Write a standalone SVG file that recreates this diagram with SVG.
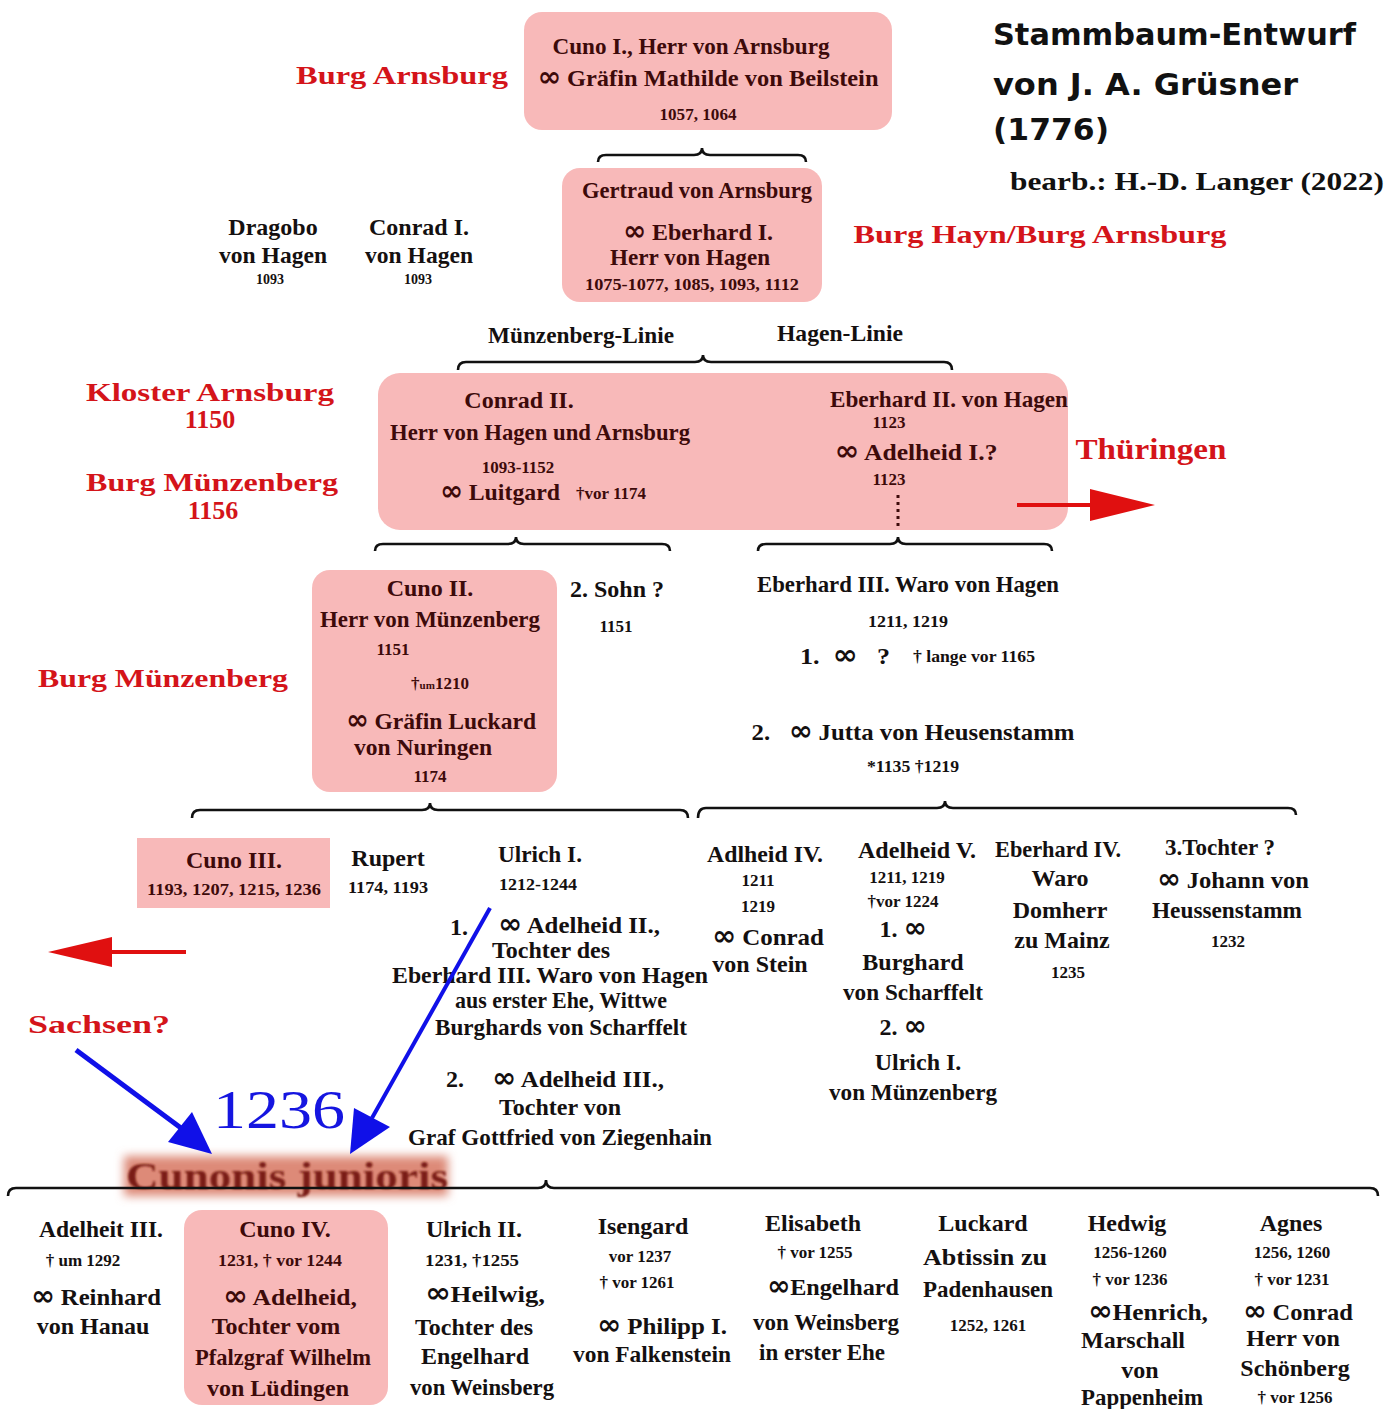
<svg xmlns="http://www.w3.org/2000/svg" width="1386" height="1409" viewBox="0 0 1386 1409">
<defs>
<style>
text{font-family:"Liberation Serif","Times New Roman",serif;text-anchor:middle}
.t{fill:#141010;font-size:24px;font-weight:bold}
.b{fill:#3d0a0a;font-size:24px;font-weight:bold}
.s{fill:#141010;font-size:17px;font-weight:bold}
.sb{fill:#3d0a0a;font-size:17px;font-weight:bold}
.r{fill:#d4141a;font-size:26px;font-weight:bold}
.i{font-family:"DejaVu Sans",sans-serif;font-size:1.15em;font-weight:bold}
.box{fill:#f8b9b9}
.brace{fill:none;stroke:#111;stroke-width:2.6}
.title{font-family:"DejaVu Sans",sans-serif;font-weight:bold;font-size:31px;fill:#111;text-anchor:start}
</style>
<filter id="blur" x="-10%" y="-40%" width="120%" height="180%"><feGaussianBlur stdDeviation="5"/></filter>
<filter id="soft"><feGaussianBlur stdDeviation="0.9"/></filter>
</defs>
<rect width="1386" height="1409" fill="#fff"/>

<!-- title -->
<g id="title">
<text class="title" x="993" y="45" textLength="363" lengthAdjust="spacingAndGlyphs">Stammbaum-Entwurf</text>
<text class="title" x="993" y="95" textLength="305" lengthAdjust="spacingAndGlyphs">von J. A. Grüsner</text>
<text class="title" x="993" y="140" textLength="116" lengthAdjust="spacingAndGlyphs">(1776)</text>
<text x="1010" y="190" style="text-anchor:start;font-size:26px;font-weight:bold;fill:#111" textLength="374" lengthAdjust="spacingAndGlyphs">bearb.: H.-D. Langer (2022)</text>
</g>

<!-- red place labels -->
<g id="labels">
<text class="r" x="402" y="84" textLength="212" lengthAdjust="spacingAndGlyphs">Burg Arnsburg</text>
<text class="r" x="1040" y="243" textLength="373" lengthAdjust="spacingAndGlyphs">Burg Hayn/Burg Arnsburg</text>
<text class="r" x="210" y="401" textLength="248" lengthAdjust="spacingAndGlyphs">Kloster Arnsburg</text>
<text class="r" x="210" y="428">1150</text>
<text class="r" x="212" y="491" textLength="252" lengthAdjust="spacingAndGlyphs">Burg Münzenberg</text>
<text class="r" x="213" y="519">1156</text>
<text class="r" x="1151" y="459" style="font-size:30px" textLength="151" lengthAdjust="spacingAndGlyphs">Thüringen</text>
<text class="r" x="163" y="687" textLength="250" lengthAdjust="spacingAndGlyphs">Burg Münzenberg</text>
<text class="r" x="99" y="1033" textLength="142" lengthAdjust="spacingAndGlyphs">Sachsen?</text>
<text x="279" y="1128" style="font-size:54px;fill:#1515e0" textLength="132" lengthAdjust="spacingAndGlyphs">1236</text>
<text class="t" x="581" y="343" textLength="186" lengthAdjust="spacingAndGlyphs">Münzenberg-Linie</text>
<text class="t" x="840" y="341" textLength="126" lengthAdjust="spacingAndGlyphs">Hagen-Linie</text>
</g>

<g id="cuno1">
<rect class="box" x="524" y="12" width="368" height="118" rx="18"/>
<text class="b" x="691" y="54" textLength="277" lengthAdjust="spacingAndGlyphs">Cuno I., Herr von Arnsburg</text>
<text class="b" x="708" y="86" textLength="341" lengthAdjust="spacingAndGlyphs"><tspan class="i">∞</tspan> Gräfin Mathilde von Beilstein</text>
<text class="sb" x="698" y="120" textLength="77" lengthAdjust="spacingAndGlyphs">1057, 1064</text>
</g>

<g id="gertraud">
<rect class="box" x="562" y="168" width="260" height="134" rx="18"/>
<text class="b" x="697" y="198" textLength="230" lengthAdjust="spacingAndGlyphs">Gertraud von Arnsburg</text>
<text class="b" x="698" y="240" textLength="150" lengthAdjust="spacingAndGlyphs"><tspan class="i">∞</tspan> Eberhard I.</text>
<text class="b" x="690" y="265" textLength="160" lengthAdjust="spacingAndGlyphs">Herr von Hagen</text>
<text class="sb" x="692" y="290" textLength="214" lengthAdjust="spacingAndGlyphs">1075-1077, 1085, 1093, 1112</text>
</g>

<g id="dragobo">
<text class="t" x="273" y="235">Dragobo</text>
<text class="t" x="273" y="263" textLength="108" lengthAdjust="spacingAndGlyphs">von Hagen</text>
<text class="s" x="270" y="284" style="font-size:14px">1093</text>
</g>
<g id="conrad1">
<text class="t" x="419" y="235">Conrad I.</text>
<text class="t" x="419" y="263" textLength="108" lengthAdjust="spacingAndGlyphs">von Hagen</text>
<text class="s" x="418" y="284" style="font-size:14px">1093</text>
</g>

<g id="conrad2-eberhard2">
<rect class="box" x="378" y="373" width="690" height="157" rx="22"/>
<text class="b" x="519" y="408">Conrad II.</text>
<text class="b" x="540" y="440" textLength="300" lengthAdjust="spacingAndGlyphs">Herr von Hagen und Arnsburg</text>
<text class="sb" x="518" y="473">1093-1152</text>
<text class="b" x="500" y="500" textLength="120" lengthAdjust="spacingAndGlyphs"><tspan class="i">∞</tspan> Luitgard</text>
<text class="sb" x="611" y="499" textLength="70" lengthAdjust="spacingAndGlyphs">†vor 1174</text>
<text class="b" x="949" y="407" textLength="238" lengthAdjust="spacingAndGlyphs">Eberhard II. von Hagen</text>
<text class="sb" x="889" y="428">1123</text>
<text class="b" x="916" y="460" textLength="163" lengthAdjust="spacingAndGlyphs"><tspan class="i">∞</tspan> Adelheid I.?</text>
<text class="sb" x="889" y="485">1123</text>
</g>

<g id="cuno2">
<rect class="box" x="312" y="570" width="245" height="222" rx="18"/>
<text class="b" x="430" y="596">Cuno II.</text>
<text class="b" x="430" y="627" textLength="220" lengthAdjust="spacingAndGlyphs">Herr von Münzenberg</text>
<text class="sb" x="393" y="655">1151</text>
<text class="sb" x="440" y="689">†<tspan style="font-size:11px">um</tspan>1210</text>
<text class="b" x="441" y="729" textLength="190" lengthAdjust="spacingAndGlyphs"><tspan class="i">∞</tspan> Gräfin Luckard</text>
<text class="b" x="423" y="755" textLength="138" lengthAdjust="spacingAndGlyphs">von Nuringen</text>
<text class="sb" x="430" y="782">1174</text>
</g>

<g id="sohn2">
<text class="t" x="617" y="597" textLength="94" lengthAdjust="spacingAndGlyphs">2. Sohn ?</text>
<text class="s" x="616" y="632">1151</text>
</g>

<g id="eberhard3">
<text class="t" x="908" y="592" textLength="302" lengthAdjust="spacingAndGlyphs">Eberhard III. Waro von Hagen</text>
<text class="s" x="908" y="627" textLength="80" lengthAdjust="spacingAndGlyphs">1211, 1219</text>
<text class="t" x="845" y="664" textLength="90" lengthAdjust="spacingAndGlyphs" xml:space="preserve">1.  <tspan class="i">∞</tspan>   ?</text>
<text class="s" x="974" y="662" textLength="122" lengthAdjust="spacingAndGlyphs">† lange vor 1165</text>
<text class="t" x="913" y="740" textLength="323" lengthAdjust="spacingAndGlyphs" xml:space="preserve">2.   <tspan class="i">∞</tspan> Jutta von Heusenstamm</text>
<text class="s" x="913" y="772" textLength="92" lengthAdjust="spacingAndGlyphs">*1135 †1219</text>
</g>

<g id="cuno3">
<rect class="box" x="137" y="838" width="193" height="70"/>
<text class="b" x="234" y="868">Cuno III.</text>
<text class="sb" x="234" y="895" textLength="174" lengthAdjust="spacingAndGlyphs">1193, 1207, 1215, 1236</text>
</g>
<g id="rupert">
<text class="t" x="388" y="866">Rupert</text>
<text class="s" x="388" y="893" textLength="80" lengthAdjust="spacingAndGlyphs">1174, 1193</text>
</g>
<g id="ulrich1">
<text class="t" x="540" y="862" textLength="84" lengthAdjust="spacingAndGlyphs">Ulrich I.</text>
<text class="s" x="538" y="890" textLength="78" lengthAdjust="spacingAndGlyphs">1212-1244</text>
<text class="t" x="459" y="935">1.</text>
<text class="t" x="579" y="933" textLength="162" lengthAdjust="spacingAndGlyphs"><tspan class="i">∞</tspan> Adelheid II.,</text>
<text class="t" x="551" y="958">Tochter des</text>
<text class="t" x="550" y="983" textLength="316" lengthAdjust="spacingAndGlyphs">Eberhard III. Waro von Hagen</text>
<text class="t" x="561" y="1008" textLength="212" lengthAdjust="spacingAndGlyphs">aus erster Ehe, Wittwe</text>
<text class="t" x="561" y="1035" textLength="252" lengthAdjust="spacingAndGlyphs">Burghards von Scharffelt</text>
<text class="t" x="455" y="1087">2.</text>
<text class="t" x="578" y="1087" textLength="172" lengthAdjust="spacingAndGlyphs"><tspan class="i">∞</tspan> Adelheid III.,</text>
<text class="t" x="560" y="1115">Tochter von</text>
<text class="t" x="560" y="1145" textLength="304" lengthAdjust="spacingAndGlyphs">Graf Gottfried von Ziegenhain</text>
</g>

<g id="adlheid4">
<text class="t" x="765" y="862" textLength="116" lengthAdjust="spacingAndGlyphs">Adlheid IV.</text>
<text class="s" x="758" y="886">1211</text>
<text class="s" x="758" y="912">1219</text>
<text class="t" x="768" y="945" textLength="112" lengthAdjust="spacingAndGlyphs"><tspan class="i">∞</tspan> Conrad</text>
<text class="t" x="760" y="972">von Stein</text>
</g>
<g id="adelheid5">
<text class="t" x="917" y="858" textLength="118" lengthAdjust="spacingAndGlyphs">Adelheid V.</text>
<text class="s" x="907" y="883">1211, 1219</text>
<text class="s" x="903" y="907">†vor 1224</text>
<text class="t" x="903" y="937">1. <tspan class="i">∞</tspan></text>
<text class="t" x="913" y="970">Burghard</text>
<text class="t" x="913" y="1000" textLength="140" lengthAdjust="spacingAndGlyphs">von Scharffelt</text>
<text class="t" x="903" y="1035">2. <tspan class="i">∞</tspan></text>
<text class="t" x="918" y="1070">Ulrich I.</text>
<text class="t" x="913" y="1100" textLength="168" lengthAdjust="spacingAndGlyphs">von Münzenberg</text>
</g>
<g id="eberhard4">
<text class="t" x="1058" y="857" textLength="126" lengthAdjust="spacingAndGlyphs">Eberhard IV.</text>
<text class="t" x="1060" y="886">Waro</text>
<text class="t" x="1060" y="918">Domherr</text>
<text class="t" x="1062" y="948">zu Mainz</text>
<text class="s" x="1068" y="978">1235</text>
</g>
<g id="tochter3">
<text class="t" x="1220" y="855" textLength="110" lengthAdjust="spacingAndGlyphs">3.Tochter ?</text>
<text class="t" x="1233" y="888" textLength="152" lengthAdjust="spacingAndGlyphs"><tspan class="i">∞</tspan> Johann von</text>
<text class="t" x="1227" y="918" textLength="150" lengthAdjust="spacingAndGlyphs">Heussenstamm</text>
<text class="s" x="1228" y="947">1232</text>
</g>

<g id="cunonis">
<rect x="124" y="1156" width="324" height="40" fill="#dd8a78" filter="url(#blur)"/>
<text x="287" y="1189" filter="url(#soft)" style="font-size:38px;font-weight:bold;fill:#7a1e12" textLength="322" lengthAdjust="spacingAndGlyphs">Cunonis junioris</text>
</g>

<g id="adelheit3">
<text class="t" x="101" y="1237" textLength="124" lengthAdjust="spacingAndGlyphs">Adelheit III.</text>
<text class="s" x="83" y="1266">† um 1292</text>
<text class="t" x="96" y="1305" textLength="130" lengthAdjust="spacingAndGlyphs"><tspan class="i">∞</tspan> Reinhard</text>
<text class="t" x="93" y="1334">von Hanau</text>
</g>
<g id="cuno4">
<rect class="box" x="184" y="1210" width="204" height="195" rx="18"/>
<text class="b" x="285" y="1237">Cuno IV.</text>
<text class="sb" x="280" y="1266" textLength="124" lengthAdjust="spacingAndGlyphs">1231, † vor 1244</text>
<text class="b" x="290" y="1305" textLength="134" lengthAdjust="spacingAndGlyphs"><tspan class="i">∞</tspan> Adelheid,</text>
<text class="b" x="276" y="1334">Tochter vom</text>
<text class="b" x="283" y="1365" textLength="176" lengthAdjust="spacingAndGlyphs">Pfalzgraf Wilhelm</text>
<text class="b" x="278" y="1396">von Lüdingen</text>
</g>
<g id="ulrich2">
<text class="t" x="474" y="1237">Ulrich II.</text>
<text class="s" x="472" y="1266" textLength="94" lengthAdjust="spacingAndGlyphs">1231, †1255</text>
<text class="t" x="485" y="1302" textLength="120" lengthAdjust="spacingAndGlyphs"><tspan class="i">∞</tspan>Heilwig,</text>
<text class="t" x="474" y="1335">Tochter des</text>
<text class="t" x="475" y="1364">Engelhard</text>
<text class="t" x="482" y="1395" textLength="144" lengthAdjust="spacingAndGlyphs">von Weinsberg</text>
</g>
<g id="isengard">
<text class="t" x="643" y="1234">Isengard</text>
<text class="s" x="640" y="1262">vor 1237</text>
<text class="s" x="637" y="1288">† vor 1261</text>
<text class="t" x="662" y="1334" textLength="130" lengthAdjust="spacingAndGlyphs"><tspan class="i">∞</tspan> Philipp I.</text>
<text class="t" x="652" y="1362" textLength="158" lengthAdjust="spacingAndGlyphs">von Falkenstein</text>
</g>
<g id="elisabeth">
<text class="t" x="813" y="1231">Elisabeth</text>
<text class="s" x="815" y="1258">† vor 1255</text>
<text class="t" x="833" y="1295" textLength="132" lengthAdjust="spacingAndGlyphs"><tspan class="i">∞</tspan>Engelhard</text>
<text class="t" x="826" y="1330" textLength="146" lengthAdjust="spacingAndGlyphs">von Weinsberg</text>
<text class="t" x="822" y="1360" textLength="126" lengthAdjust="spacingAndGlyphs">in erster Ehe</text>
</g>
<g id="luckard">
<text class="t" x="983" y="1231">Luckard</text>
<text class="t" x="985" y="1265" textLength="124" lengthAdjust="spacingAndGlyphs">Abtissin zu</text>
<text class="t" x="988" y="1297" textLength="130" lengthAdjust="spacingAndGlyphs">Padenhausen</text>
<text class="s" x="988" y="1331">1252, 1261</text>
</g>
<g id="hedwig">
<text class="t" x="1127" y="1231">Hedwig</text>
<text class="s" x="1130" y="1258">1256-1260</text>
<text class="s" x="1130" y="1285">† vor 1236</text>
<text class="t" x="1148" y="1320" textLength="120" lengthAdjust="spacingAndGlyphs"><tspan class="i">∞</tspan>Henrich,</text>
<text class="t" x="1133" y="1348">Marschall</text>
<text class="t" x="1140" y="1378">von</text>
<text class="t" x="1142" y="1405" textLength="122" lengthAdjust="spacingAndGlyphs">Pappenheim</text>
</g>
<g id="agnes">
<text class="t" x="1291" y="1231">Agnes</text>
<text class="s" x="1292" y="1258">1256, 1260</text>
<text class="s" x="1292" y="1285">† vor 1231</text>
<text class="t" x="1298" y="1320" textLength="110" lengthAdjust="spacingAndGlyphs"><tspan class="i">∞</tspan> Conrad</text>
<text class="t" x="1293" y="1346">Herr von</text>
<text class="t" x="1295" y="1376">Schönberg</text>
<text class="s" x="1295" y="1403">† vor 1256</text>
</g>

<!-- connectors -->
<g id="connectors">
<path class="brace" d="M598 162 Q598 155 606 155 L694 155 Q702 155 702 148 Q702 155 710 155 L798 155 Q806 155 806 162"/>
<path class="brace" d="M458 370 Q458 362 466 362 L695 362 Q703 362 703 355 Q703 362 711 362 L944 362 Q952 362 952 370"/>
<path class="brace" d="M375 551 Q375 544 383 544 L508 544 Q516 544 516 537 Q516 544 524 544 L662 544 Q670 544 670 551"/>
<path class="brace" d="M758 551 Q758 544 766 544 L890 544 Q898 544 898 537 Q898 544 906 544 L1044 544 Q1052 544 1052 551"/>
<path class="brace" d="M192 818 Q192 810 200 810 L422 810 Q430 810 430 803 Q430 810 438 810 L680 810 Q688 810 688 818"/>
<path class="brace" d="M698 818 Q698 808 706 808 L937 808 Q945 808 945 801 Q945 808 953 808 L1288 808 Q1296 808 1296 815"/>
<path class="brace" d="M8 1196 Q8 1188 16 1188 L538 1188 Q546 1188 546 1180 Q546 1188 554 1188 L1370 1188 Q1378 1188 1378 1196"/>
<line x1="898" y1="495" x2="898" y2="530" stroke="#3d0a0a" stroke-width="3" stroke-dasharray="3,4"/>
<g id="arrow-thueringen">
<line x1="1017" y1="505" x2="1100" y2="505" stroke="#e01010" stroke-width="4"/>
<polygon points="1090,489 1155,505 1090,521" fill="#e01010"/>
</g>
<g id="arrow-sachsen">
<line x1="186" y1="952" x2="100" y2="952" stroke="#e01010" stroke-width="4"/>
<polygon points="112,937 48,952 112,967" fill="#e01010"/>
</g>
<g id="arrow-blue-1">
<line x1="76" y1="1050" x2="185" y2="1131" stroke="#1010e8" stroke-width="5"/>
<polygon points="168,1142 212,1154 192,1112" fill="#1010e8"/>
</g>
<g id="arrow-blue-2">
<line x1="490" y1="908" x2="372" y2="1118" stroke="#1010e8" stroke-width="4"/>
<polygon points="350,1154 354,1108 390,1127" fill="#1010e8"/>
</g>
</g>
</svg>
